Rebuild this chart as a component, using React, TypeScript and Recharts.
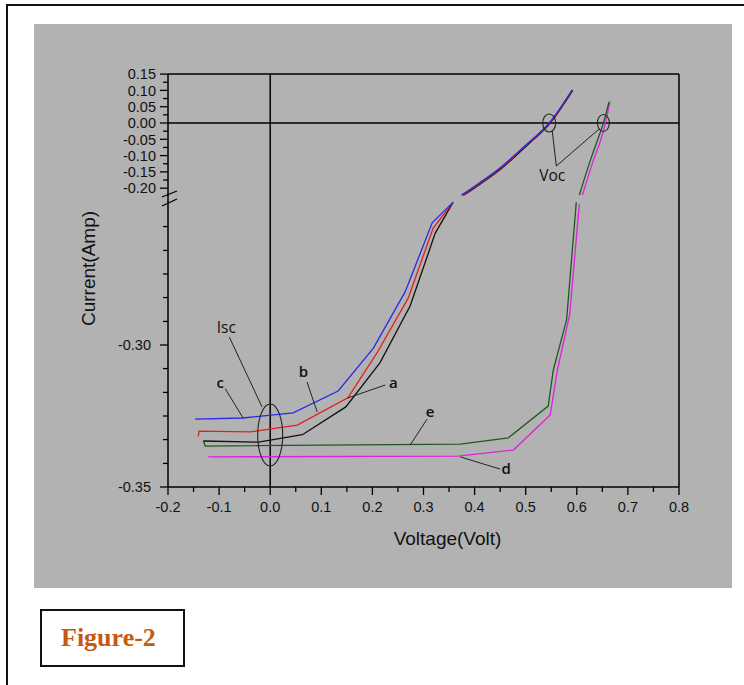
import React from 'react';
import { LineChart, Line, XAxis, YAxis, ReferenceLine, ReferenceDot, Label } from 'recharts';

// ---- Data: [Voltage (V), Current (A)] ----
// lower segment = below the axis break, upper segment = above the break
const aLower = [[-0.131, -0.3338], [-0.023, -0.3342], [0.063, -0.3316], [0.148, -0.3218], [0.215, -0.3062], [0.274, -0.2862], [0.323, -0.2606], [0.358, -0.2497]];
const bLower = [[-0.141, -0.3322], [-0.139, -0.3303], [-0.039, -0.3306], [0.053, -0.3282], [0.152, -0.3186], [0.209, -0.3028], [0.27, -0.2835], [0.319, -0.2588], [0.358, -0.2497]];
const cLower = [[-0.147, -0.3261], [-0.053, -0.3257], [0.045, -0.3239], [0.133, -0.3162], [0.202, -0.3011], [0.264, -0.2813], [0.317, -0.257], [0.358, -0.2497]];
const dLower = [[-0.121, -0.3394], [0.368, -0.3391], [0.476, -0.337], [0.548, -0.3246], [0.562, -0.3088], [0.586, -0.2894], [0.605, -0.2504]];
const eLower = [[-0.131, -0.3338], [-0.127, -0.3356], [0.372, -0.3349], [0.466, -0.3327], [0.544, -0.3215], [0.554, -0.3088], [0.58, -0.2912], [0.599, -0.2497]];

const aUpper = [[0.378, -0.222], [0.412, -0.186], [0.452, -0.14], [0.503, -0.068], [0.548, 0.0], [0.592, 0.1]];
const bUpper = [[0.376, -0.222], [0.411, -0.185], [0.451, -0.139], [0.502, -0.067], [0.547, 0.0], [0.591, 0.101]];
const cUpper = [[0.374, -0.221], [0.41, -0.183], [0.45, -0.137], [0.5, -0.068], [0.546, 0.0], [0.591, 0.102]];
const dUpper = [[0.611, -0.221], [0.632, -0.117], [0.648, -0.046], [0.656, 0.0], [0.665, 0.067]];
const eUpper = [[0.605, -0.221], [0.626, -0.117], [0.642, -0.046], [0.652, 0.0], [0.663, 0.064]];

// ---- Tick values / labels ----
const xMajorTicks = [-0.2, -0.1, 0.0, 0.1, 0.2, 0.3, 0.4, 0.5, 0.6, 0.7, 0.8];
const xMajorLabels = ['-0.2', '-0.1', '0.0', '0.1', '0.2', '0.3', '0.4', '0.5', '0.6', '0.7', '0.8'];
const xMinorTicks = [-0.15, -0.05, 0.05, 0.15, 0.25, 0.35, 0.45, 0.55, 0.65, 0.75];

const yUpperMajor = [0.15, 0.1, 0.05, 0.0, -0.05, -0.1, -0.15, -0.2];
const yUpperLabels = ['0.15', '0.10', '0.05', '0.00', '-0.05', '-0.10', '-0.15', '-0.20'];
const yUpperMinor = [0.125, 0.075, 0.025, -0.025, -0.075, -0.125, -0.175];
const yLowerMajor = [-0.3, -0.35];
const yLowerLabels = ['-0.30', '-0.35'];
const yLowerMinor = [-0.2583, -0.2667, -0.275, -0.2833, -0.2917, -0.3083, -0.3167, -0.325, -0.3333, -0.3417];

// ---- broken-axis mapping (value -> plot units) ----
const upperY = (v: number) => 364 + 326 * v;
const lowerY = (v: number) => 142 + (v + 0.3) * 2840;

const toSeries = (pts: number[][], part: 'upper' | 'lower') =>
  pts.map(([x, v]) => ({ x, y: part === 'upper' ? upperY(v) : lowerY(v) }));

const key = (n: number) => n.toFixed(2);
const yTickInfo = new Map<string, { label: string; major: boolean; lower: boolean }>();
yUpperMajor.forEach((v, i) => yTickInfo.set(key(upperY(v)), { label: yUpperLabels[i], major: true, lower: false }));
yUpperMinor.forEach((v) => yTickInfo.set(key(upperY(v)), { label: '', major: false, lower: false }));
yLowerMajor.forEach((v, i) => yTickInfo.set(key(lowerY(v)), { label: yLowerLabels[i], major: true, lower: true }));
yLowerMinor.forEach((v) => yTickInfo.set(key(lowerY(v)), { label: '', major: false, lower: true }));
const yTicks = [
  ...yUpperMajor.map(upperY), ...yUpperMinor.map(upperY),
  ...yLowerMajor.map(lowerY), ...yLowerMinor.map(lowerY),
];

const xTickInfo = new Map<string, { label: string; major: boolean }>();
xMajorTicks.forEach((v, i) => xTickInfo.set(key(v), { label: xMajorLabels[i], major: true }));
xMinorTicks.forEach((v) => xTickInfo.set(key(v), { label: '', major: false }));
const xTicks = [...xMajorTicks, ...xMinorTicks];

const FONT = '"Liberation Sans", Arial, sans-serif';
const LABEL_FONT = '"Open Sans", "Liberation Sans", sans-serif';

const YTick = (props: any) => {
  const { x, y, payload } = props;
  const info = yTickInfo.get(key(payload.value)) || { label: '', major: false, lower: false };
  const len = info.major ? 8 : 5;
  return (
    <g>
      <line x1={x - len} x2={x} y1={y} y2={y} stroke="#000" strokeWidth={1.3} />
      {info.label && (
        <text x={x - (info.lower ? 17 : 12)} y={y} dy="0.36em" textAnchor="end" fontSize={14.5} fontFamily={FONT} fill="#111">
          {info.label}
        </text>
      )}
    </g>
  );
};

const XTick = (props: any) => {
  const { x, y, payload } = props;
  const info = xTickInfo.get(key(payload.value)) || { label: '', major: false };
  const len = info.major ? 8 : 5;
  return (
    <g>
      <line x1={x} x2={x} y1={y} y2={y + len} stroke="#000" strokeWidth={1.3} />
      {info.label && (
        <text x={x} y={y + 25} textAnchor="middle" fontSize={14.5} fontFamily={FONT} fill="#111">
          {info.label}
        </text>
      )}
    </g>
  );
};

const ellipseShape = (rx: number, ry: number) => (p: any) => (
  <ellipse cx={p.cx} cy={p.cy} rx={rx} ry={ry} fill="none" stroke="#222" strokeWidth={1.1} />
);
const textShape = (t: string, size: number, weight: number) => (p: any) => (
  <text x={p.cx} y={p.cy} textAnchor="middle" dy="0.35em" fontSize={size} fontWeight={weight} fontFamily={LABEL_FONT} fill="#111">
    {t}
  </text>
);

const lines: { data: number[][]; part: 'upper' | 'lower'; color: string; type: 'linear' | 'monotone' }[] = [
  { data: aLower, part: 'lower', color: '#111111', type: 'linear' },
  { data: bLower, part: 'lower', color: '#e0201c', type: 'linear' },
  { data: cLower, part: 'lower', color: '#2a2ae6', type: 'linear' },
  { data: eLower, part: 'lower', color: '#1e5a1e', type: 'linear' },
  { data: dLower, part: 'lower', color: '#e020e0', type: 'linear' },
  { data: aUpper, part: 'upper', color: '#111111', type: 'monotone' },
  { data: bUpper, part: 'upper', color: '#c01818', type: 'monotone' },
  { data: cUpper, part: 'upper', color: '#2a2ae6', type: 'monotone' },
  { data: dUpper, part: 'upper', color: '#e020e0', type: 'monotone' },
  { data: eUpper, part: 'upper', color: '#1e5a1e', type: 'monotone' },
];

const seg = (x1: number, y1: number, x2: number, y2: number) => [{ x: x1, y: y1 }, { x: x2, y: y2 }];

export default function App() {
  return (
    <div style={{ position: 'absolute', left: 0, top: 0, width: 744, height: 685, background: '#fff', overflow: 'hidden' }}>
      <div style={{ position: 'absolute', left: 6, top: 4, width: 738, height: 2, background: '#111' }} />
      <div style={{ position: 'absolute', left: 6, top: 4, width: 2, height: 681, background: '#111' }} />
      <div style={{ position: 'absolute', left: 34, top: 24, width: 698, height: 564, background: '#b2b2b2' }} />
      <div style={{ position: 'absolute', left: 34, top: 24 }}>
        <LineChart width={698} height={564} margin={{ top: 50, right: 53, left: 74, bottom: 71 }}>
          <XAxis
            dataKey="x"
            type="number"
            domain={[-0.2, 0.8]}
            allowDataOverflow
            ticks={xTicks}
            interval={0}
            tick={<XTick />}
            tickLine={false}
            tickSize={0}
            tickMargin={0}
            height={30}
            axisLine={{ stroke: '#000', strokeWidth: 1.5 }}
          >
            <Label
              content={(p: any) => {
                const vb = p.viewBox || { x: 0, y: 0, width: 0, height: 0 };
                return (
                  <text x={vb.x + vb.width / 2 + 24} y={vb.y + vb.height + 21} dy="0.35em" textAnchor="middle" fontSize={19} fontFamily={FONT} fill="#111">
                    Voltage(Volt)
                  </text>
                );
              }}
            />
          </XAxis>
          <YAxis
            type="number"
            domain={[0, 413]}
            allowDataOverflow
            ticks={yTicks}
            interval={0}
            tick={<YTick />}
            tickLine={false}
            tickSize={0}
            tickMargin={0}
            width={60}
            axisLine={{ stroke: '#000', strokeWidth: 1.5 }}
          >
            <Label
              content={(p: any) => {
                const vb = p.viewBox || { x: 0, y: 0, width: 0, height: 0 };
                const cx = vb.x - 20;
                const cy = vb.y + vb.height / 2 - 12;
                return (
                  <text x={cx} y={cy} dy="0.35em" textAnchor="middle" fontSize={19} fontFamily={FONT} fill="#111" transform={`rotate(-90, ${cx}, ${cy})`}>
                    Current(Amp)
                  </text>
                );
              }}
            />
          </YAxis>

          {/* frame and zero lines */}
          <ReferenceLine y={413} stroke="#000" strokeWidth={1.5} />
          <ReferenceLine x={0.8} stroke="#000" strokeWidth={1.5} />
          <ReferenceLine y={upperY(0)} stroke="#000" strokeWidth={1.5} />
          <ReferenceLine x={0} stroke="#000" strokeWidth={1.5} />

          {/* axis break marks */}
          <ReferenceLine segment={seg(-0.2117, 290, -0.1824, 296)} stroke="#000" strokeWidth={1.3} ifOverflow="visible" />
          <ReferenceLine segment={seg(-0.2117, 281, -0.1824, 288)} stroke="#000" strokeWidth={1.3} ifOverflow="visible" />

          {lines.map((l, i) => (
            <Line
              key={i}
              data={toSeries(l.data, l.part)}
              dataKey="y"
              type={l.type}
              stroke={l.color}
              strokeWidth={1.3}
              dot={false}
              activeDot={false}
              isAnimationActive={false}
            />
          ))}

          {/* annotations: leader lines */}
          <ReferenceLine segment={seg(-0.08, lowerY(-0.2972), -0.016, lowerY(-0.3218))} stroke="#222" strokeWidth={1} />
          <ReferenceLine segment={seg(-0.088, lowerY(-0.3154), -0.053, lowerY(-0.3257))} stroke="#222" strokeWidth={1} />
          <ReferenceLine segment={seg(0.072, lowerY(-0.313), 0.092, lowerY(-0.3236))} stroke="#222" strokeWidth={1} />
          <ReferenceLine segment={seg(0.225, lowerY(-0.3141), 0.151, lowerY(-0.3187))} stroke="#222" strokeWidth={1} />
          <ReferenceLine segment={seg(0.307, lowerY(-0.3261), 0.274, lowerY(-0.3352))} stroke="#222" strokeWidth={1} />
          <ReferenceLine segment={seg(0.45, lowerY(-0.3437), 0.372, lowerY(-0.3394))} stroke="#222" strokeWidth={1} />
          <ReferenceLine segment={seg(0.56, upperY(-0.132), 0.552, upperY(-0.025))} stroke="#222" strokeWidth={1} />
          <ReferenceLine segment={seg(0.56, upperY(-0.132), 0.644, upperY(-0.018))} stroke="#222" strokeWidth={1} />

          {/* ellipses */}
          <ReferenceDot x={0} y={lowerY(-0.3317)} r={1} shape={ellipseShape(12.5, 31)} />
          <ReferenceDot x={0.546} y={upperY(0)} r={1} shape={ellipseShape(6.5, 9)} />
          <ReferenceDot x={0.652} y={upperY(0)} r={1} shape={ellipseShape(6, 8.5)} />

          {/* text labels */}
          <ReferenceDot x={-0.086} y={lowerY(-0.2937)} r={1} shape={textShape('Isc', 15.5, 500)} />
          <ReferenceDot x={0.552} y={upperY(-0.1626)} r={1} shape={textShape('Voc', 15.5, 500)} />
          <ReferenceDot x={-0.098} y={lowerY(-0.3133)} r={1} shape={textShape('c', 15, 600)} />
          <ReferenceDot x={0.065} y={lowerY(-0.3095)} r={1} shape={textShape('b', 15, 600)} />
          <ReferenceDot x={0.241} y={lowerY(-0.3133)} r={1} shape={textShape('a', 15, 600)} />
          <ReferenceDot x={0.313} y={lowerY(-0.3236)} r={1} shape={textShape('e', 15, 600)} />
          <ReferenceDot x={0.462} y={lowerY(-0.3437)} r={1} shape={textShape('d', 15, 600)} />
        </LineChart>
      </div>
      <div
        style={{
          position: 'absolute', left: 40, top: 609, width: 145, height: 58, boxSizing: 'border-box',
          border: '2px solid #111', background: '#fff', display: 'flex', alignItems: 'center', paddingLeft: 19,
          fontFamily: '"Liberation Serif", "Times New Roman", serif', fontWeight: 700, fontSize: 26, color: '#c55a11',
        }}
      >
        Figure-2
      </div>
    </div>
  );
}
